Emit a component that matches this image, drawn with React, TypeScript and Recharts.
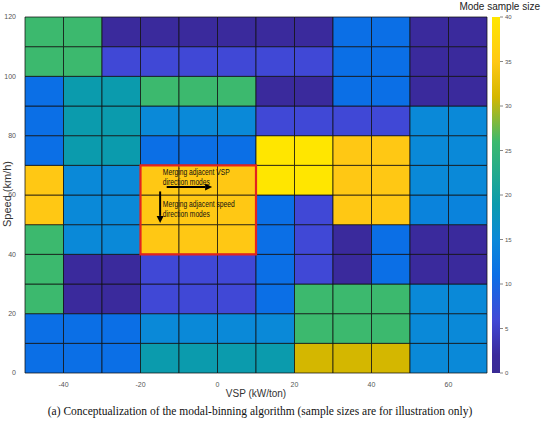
import React from 'react';
import {
  ComposedChart, Scatter, XAxis, YAxis, ReferenceArea, ReferenceLine, ReferenceDot,
  BarChart, Bar,
} from 'recharts';

// VSP bin lower edges (kW/ton) and speed bin lower edges (km/h)
const vspBins = [-50, -40, -30, -20, -10, 0, 10, 20, 30, 40, 50, 60];
const speedBins = [0, 10, 20, 30, 40, 50, 60, 70, 80, 90, 100, 110];
const binWidth = 10;

// Mode sample size per speed row (columns follow vspBins)
const speed0 = [11, 11, 11, 19, 19, 19, 19, 31, 31, 31, 15, 15];
const speed10 = [11, 11, 11, 15, 15, 15, 15, 26, 26, 26, 15, 15];
const speed20 = [26, 2, 2, 6, 6, 6, 11, 26, 26, 26, 15, 15];
const speed30 = [26, 2, 2, 6, 6, 6, 11, 6, 2, 11, 2, 2];
const speed40 = [26, 15, 15, 35, 35, 35, 11, 6, 2, 11, 2, 2];
const speed50 = [35, 15, 15, 35, 35, 35, 11, 6, 35, 35, 14, 14];
const speed60 = [35, 15, 15, 35, 35, 35, 40, 40, 35, 35, 15, 15];
const speed70 = [11, 19, 19, 11, 11, 11, 40, 40, 35, 35, 15, 15];
const speed80 = [11, 19, 19, 15, 15, 15, 6, 6, 6, 6, 15, 15];
const speed90 = [11, 19, 19, 26, 26, 26, 2, 2, 11, 11, 2, 2];
const speed100 = [26, 26, 6, 6, 6, 6, 6, 6, 11, 11, 2, 2];
const speed110 = [26, 26, 2, 2, 2, 2, 2, 2, 11, 11, 2, 2];
const speedRows = [speed0, speed10, speed20, speed30, speed40, speed50, speed60, speed70, speed80, speed90, speed100, speed110];

const xTicks = [-40, -20, 0, 20, 40, 60];
const yTicks = [0, 20, 40, 60, 80, 100, 120];
const cbTicks = [0, 5, 10, 15, 20, 25, 30, 35, 40];

// highlighted merged region
const mergeBox = { x1: -20, x2: 10, y1: 40, y2: 70 };

// colormap anchors (parula-like, as rendered in reference)
const cmap: [number, string][] = [
  [0, '#392a94'],
  [2, '#3a2a9c'],
  [6, '#4048d6'],
  [11, '#0b6fe6'],
  [15, '#0a89d8'],
  [19, '#0b9bad'],
  [26, '#3cb96e'],
  [31, '#d4b700'],
  [35, '#ffc814'],
  [40, '#ffe600'],
];

function hexToRgb(h: string) {
  const n = parseInt(h.slice(1), 16);
  return [(n >> 16) & 255, (n >> 8) & 255, n & 255];
}
function colorFor(v: number) {
  for (let i = 0; i < cmap.length - 1; i++) {
    const [a, ca] = cmap[i];
    const [b, cb] = cmap[i + 1];
    if (v >= a && v <= b) {
      const t = b === a ? 0 : (v - a) / (b - a);
      const A = hexToRgb(ca), B = hexToRgb(cb);
      const c = A.map((x, k) => Math.round(x + (B[k] - x) * t));
      return `rgb(${c[0]},${c[1]},${c[2]})`;
    }
  }
  return cmap[cmap.length - 1][1];
}

const cells = speedRows.flatMap((row, ri) =>
  row.map((v, ci) => ({
    x1: vspBins[ci],
    x2: vspBins[ci] + binWidth,
    y1: speedBins[ri],
    y2: speedBins[ri] + binWidth,
    x: vspBins[ci] + binWidth / 2,
    y: speedBins[ri] + binWidth / 2,
    v,
  }))
);

const annoFont = '"Liberation Sans Narrow", "Arial Narrow", Arial, sans-serif';

const ArrowLine = (props: any) => {
  const { x1, y1, x2, y2 } = props;
  const dx = x2 - x1, dy = y2 - y1;
  const len = Math.sqrt(dx * dx + dy * dy) || 1;
  const ux = dx / len, uy = dy / len;
  const hl = 7, hw = 3.5;
  const bx = x2 - ux * hl, by = y2 - uy * hl;
  const px = -uy, py = ux;
  return (
    <g>
      <line x1={x1} y1={y1} x2={bx} y2={by} stroke="#000" strokeWidth={2} />
      <polygon
        points={`${x2},${y2} ${bx + px * hw},${by + py * hw} ${bx - px * hw},${by - py * hw}`}
        fill="#000"
      />
    </g>
  );
};

const makeTextShape = (lines: [string, number][]) => (props: any) => {
  const { cx, cy } = props;
  return (
    <g>
      {lines.map(([l, w], i) => (
        <text
          key={i}
          x={cx}
          y={cy + i * 10}
          fontSize={9}
          fontFamily={annoFont}
          fill="#111"
          textLength={w}
          lengthAdjust="spacingAndGlyphs"
        >
          {l}
        </text>
      ))}
    </g>
  );
};

const HiddenShape = () => <g />;

export default function App() {
  const W = 541, H = 426;
  const gradStops = cmap.map(([v, c]) => ({ off: 1 - v / 40, c })).reverse();
  return (
    <div style={{ position: 'absolute', left: 0, top: 0, width: W, height: H, background: '#fff', overflow: 'hidden' }}>
      <div style={{ position: 'absolute', left: 0, top: 0 }}>
        <ComposedChart width={W} height={H} margin={{ top: 17, right: 54, bottom: 33, left: 0 }}>
          <XAxis
            type="number"
            dataKey="x"
            domain={[-50, 70]}
            ticks={xTicks}
            allowDataOverflow
            height={20}
            tickLine={false}
            axisLine={false}
            tick={{ fontSize: 7, fill: '#555', fontFamily: 'Arial, sans-serif' }}
            tickMargin={3}
          />
          <YAxis
            type="number"
            dataKey="y"
            domain={[0, 120]}
            ticks={yTicks}
            allowDataOverflow
            width={25}
            tickLine={false}
            axisLine={false}
            tick={{ fontSize: 7, fill: '#555', fontFamily: 'Arial, sans-serif' }}
            tickMargin={3}
          />
          <Scatter data={cells} shape={HiddenShape} isAnimationActive={false} />
          {cells.map((c, i) => (
            <ReferenceArea
              key={i}
              x1={c.x1}
              x2={c.x2}
              y1={c.y1}
              y2={c.y2}
              fill={colorFor(c.v)}
              fillOpacity={1}
              stroke="#111"
              strokeOpacity={0.75}
              strokeWidth={1}
              ifOverflow="visible"
            />
          ))}
          <ReferenceArea
            x1={mergeBox.x1}
            x2={mergeBox.x2}
            y1={mergeBox.y1}
            y2={mergeBox.y2}
            fill="none"
            fillOpacity={0}
            stroke="#e3241f"
            strokeWidth={2.2}
            ifOverflow="visible"
          />
          <ReferenceDot x={-14.2} y={66.6} r={0} ifOverflow="visible" shape={makeTextShape([['Merging adjacent VSP', 67], ['direction modes', 47]])} />
          <ReferenceLine
            segment={[{ x: -13.2, y: 62.7 }, { x: -1.4, y: 62.7 }]}
            ifOverflow="visible"
            shape={ArrowLine}
          />
          <ReferenceDot x={-14.2} y={55.8} r={0} ifOverflow="visible" shape={makeTextShape([['Merging adjacent speed', 72], ['direction modes', 47]])} />
          <ReferenceLine
            segment={[{ x: -14.9, y: 61.2 }, { x: -14.9, y: 50.6 }]}
            ifOverflow="visible"
            shape={ArrowLine}
          />
        </ComposedChart>
      </div>
      <div style={{ position: 'absolute', left: 0, top: 0 }}>
        <BarChart
          width={W}
          height={H}
          data={[{ name: 'cb', v: 40 }]}
          margin={{ top: 17, right: 16, bottom: 53, left: 492 }}
          barCategoryGap={0}
        >
          <defs>
            <linearGradient id="cbGrad" x1="0" y1="0" x2="0" y2="1">
              {gradStops.map((s, i) => (
                <stop key={i} offset={s.off} stopColor={s.c} />
              ))}
            </linearGradient>
          </defs>
          <XAxis dataKey="name" hide />
          <YAxis
            orientation="right"
            domain={[0, 40]}
            ticks={cbTicks}
            width={25}
            axisLine={false}
            tickSize={3}
            tickLine={{ stroke: '#888' }}
            tick={{ fontSize: 6, fill: '#555', fontFamily: 'Arial, sans-serif' }}
            tickMargin={2}
          />
          <Bar dataKey="v" fill="url(#cbGrad)" isAnimationActive={false} />
        </BarChart>
      </div>
      <div style={{ position: 'absolute', left: 440, top: 1, width: 100, textAlign: 'right', fontFamily: 'Arial, "Liberation Sans", sans-serif', fontSize: 10, color: '#222', whiteSpace: 'nowrap' }}>
        Mode sample size
      </div>
      <div style={{ position: 'absolute', left: 7, top: 194, transform: 'translate(-50%, -50%) rotate(-90deg)', fontFamily: 'Arial, "Liberation Sans", sans-serif', fontSize: 11, color: '#333', whiteSpace: 'nowrap' }}>
        Speed (km/h)
      </div>
      <div style={{ position: 'absolute', left: 256, top: 393, transform: 'translate(-50%, -50%)', fontFamily: 'Arial, "Liberation Sans", sans-serif', fontSize: 10, color: '#333', whiteSpace: 'nowrap' }}>
        VSP (kW/ton)
      </div>
      <div style={{ position: 'absolute', left: 260, top: 411, transform: 'translate(-50%, -50%)', fontFamily: '"Liberation Serif", "Times New Roman", serif', fontSize: 11.5, color: '#111', whiteSpace: 'nowrap' }}>
        (a) Conceptualization of the modal-binning algorithm (sample sizes are for illustration only)
      </div>
    </div>
  );
}
